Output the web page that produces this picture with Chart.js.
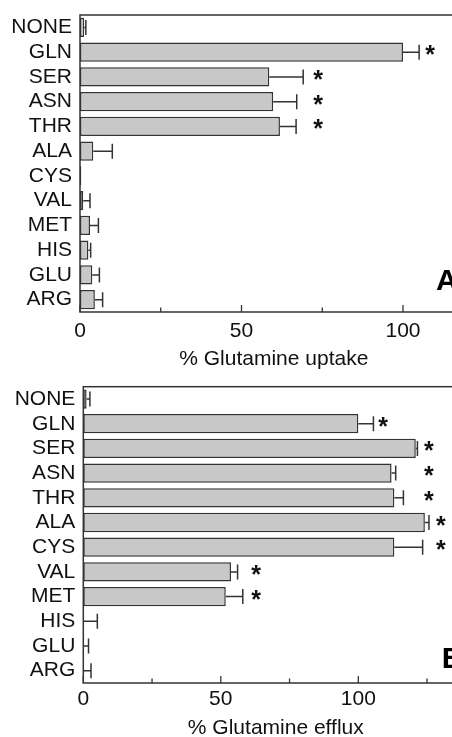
<!DOCTYPE html>
<html><head><meta charset="utf-8">
<script src="https://cdn.jsdelivr.net/npm/chart.js@4"></script>
<style>
html,body{margin:0;padding:0;overflow:hidden;background:#fff;width:452px;height:737px;position:relative;}
.wrap{position:absolute;left:0;width:470px;height:370px;}
#wa{top:0}
#wb{top:367px}
canvas{display:block}
</style></head><body>
<div class="wrap" id="wa"><canvas id="ca" width="470" height="370"></canvas></div>
<div class="wrap" id="wb"><canvas id="cb" width="470" height="370"></canvas></div>
<script>
// ---- data ----
const categories = ['NONE','GLN','SER','ASN','THR','ALA','CYS','VAL','MET','HIS','GLU','ARG'];
const uptakeValues = [1.3, 100, 58.6, 59.8, 61.9, 4.1, 0.4, 1.0, 3.1, 2.6, 3.8, 4.6];
const uptakeErrors = [0.5, 5, 10.5, 7.3, 5, 5.9, 0, 2.1, 2.6, 0.7, 2.2, 2.4];
const uptakeStars  = [null, 108.4, 73.7, 73.7, 73.7, null, null, null, null, null, null, null];
const effluxValues = [1.2, 100, 120.9, 112.1, 113.1, 124.2, 113.1, 53.7, 51.8, 0, 0, 0];
const effluxErrors = [1.2, 5.5, 0.6, 1.5, 3.3, 1.5, 10.3, 2.4, 6.2, 5.1, 1.9, 2.8];
const effluxStars  = [null, 109, 125.7, 125.7, 125.7, 130, 130, 62.8, 62.8, null, null, null];
const tickValues = [0, 25, 50, 75, 100, 125];
const tickLabels = {0: '0', 50: '50', 100: '100'};

const FONT = '"Liberation Sans", Arial, Helvetica, sans-serif';
const INK = '#111';
const EDGE = '#333';

const extrasPlugin = {
  id: 'extras',
  afterDatasetsDraw(chart, args, opts) {
    const ctx = chart.ctx;
    const xs = chart.scales.x;
    const ca = chart.chartArea;
    const meta = chart.getDatasetMeta(0);
    ctx.save();
    // error bars
    ctx.strokeStyle = EDGE;
    ctx.lineWidth = 1.5;
    meta.data.forEach((bar, i) => {
      const v = opts.values[i], e = opts.errors[i];
      if (!e) return;
      const x0 = xs.getPixelForValue(v);
      const x1 = xs.getPixelForValue(v + e);
      const y = bar.y;
      ctx.beginPath();
      ctx.moveTo(x0, y); ctx.lineTo(x1, y);
      ctx.moveTo(x1, y - 7.5); ctx.lineTo(x1, y + 7.5);
      ctx.stroke();
    });
    // stars
    ctx.fillStyle = INK;
    ctx.font = 'bold 25px ' + FONT;
    ctx.textAlign = 'center';
    ctx.textBaseline = 'alphabetic';
    meta.data.forEach((bar, i) => {
      const s = opts.stars[i];
      if (s == null) return;
      ctx.fillText('*', xs.getPixelForValue(s), bar.y + 11);
    });
    // frame
    ctx.strokeStyle = EDGE;
    ctx.lineWidth = 1.5;
    ctx.strokeRect(ca.left, ca.top, ca.right - ca.left, ca.bottom - ca.top);
    // inward tick marks
    ctx.lineWidth = 1.3;
    tickValues.forEach(v => {
      if (v > xs.max) return;
      const x = xs.getPixelForValue(v);
      const len = (v % 50 === 0) ? 7 : 4.5;
      ctx.beginPath();
      ctx.moveTo(x, ca.bottom); ctx.lineTo(x, ca.bottom - len);
      ctx.stroke();
    });
    // panel letter
    ctx.font = 'bold 30px ' + FONT;
    ctx.textAlign = 'left';
    ctx.fillStyle = '#000';
    ctx.fillText(opts.letter, opts.letterX, opts.letterY);
    ctx.restore();
  }
};

function makeChart(id, cfg) {
  return new Chart(document.getElementById(id), {
    type: 'bar',
    data: {
      labels: categories,
      datasets: [{
        data: cfg.values,
        backgroundColor: '#c8c8c8',
        borderColor: EDGE,
        borderWidth: 1.5,
        borderSkipped: false,
        barPercentage: 0.78,
        categoryPercentage: 1.0
      }]
    },
    options: {
      indexAxis: 'y',
      responsive: false,
      animation: false,
      devicePixelRatio: 1,
      layout: { padding: { top: cfg.top, right: cfg.right, left: 0, bottom: 0 } },
      plugins: {
        legend: { display: false },
        tooltip: { enabled: false },
        extras: { values: cfg.values, errors: cfg.errors, stars: cfg.stars, letter: cfg.letter, letterX: cfg.letterX, letterY: cfg.letterY }
      },
      scales: {
        x: {
          type: 'linear',
          min: 0,
          max: cfg.max,
          grid: { display: false, drawTicks: false },
          border: { display: false },
          ticks: {
            stepSize: 25,
            includeBounds: false,
            autoSkip: false,
            maxRotation: 0,
            padding: cfg.tickPad,
            color: INK,
            font: { family: FONT, size: 21 },
            callback: v => tickLabels[v] || ''
          },
          title: {
            display: true,
            text: cfg.title,
            color: INK,
            font: { family: FONT, size: 21, lineHeight: 1 },
            padding: { top: 0, bottom: cfg.titlePad }
          },
          afterFit: s => { s.height = cfg.xHeight; s.paddingLeft = 0; s.paddingRight = 0; }
        },
        y: {
          grid: { display: false, drawTicks: false },
          border: { display: false },
          ticks: {
            autoSkip: false,
            padding: 8,
            color: INK,
            font: { family: FONT, size: 21 }
          },
          afterFit: s => { s.width = cfg.yWidth; s.paddingTop = 0; s.paddingBottom = 0; }
        }
      }
    },
    plugins: [extrasPlugin]
  });
}

makeChart('ca', {
  values: uptakeValues, errors: uptakeErrors, stars: uptakeStars,
  max: 120, top: 15, right: 2.4, yWidth: 80, xHeight: 58,
  tickPad: 7, titlePad: 0.5, title: '% Glutamine uptake',
  letter: 'A', letterX: 436, letterY: 290
});
makeChart('cb', {
  values: effluxValues, errors: effluxErrors, stars: effluxStars,
  max: 140, top: 19.7, right: 1.7, yWidth: 83.3, xHeight: 54,
  tickPad: 4, titlePad: -2, title: '% Glutamine efflux',
  letter: 'B', letterX: 441.7, letterY: 301.3
});
</script>
</body></html>
